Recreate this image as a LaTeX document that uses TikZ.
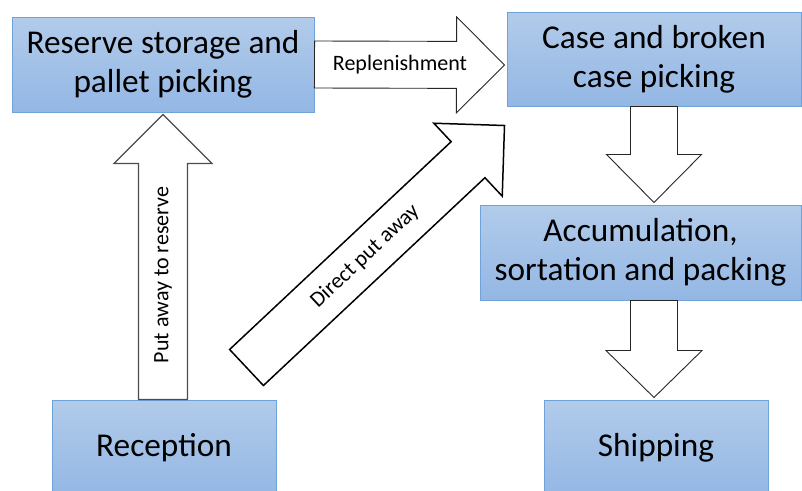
\documentclass[tikz,border=0pt]{standalone}
\usepackage{fontspec}
\setmainfont{Carlito}
\usetikzlibrary{calc}

\definecolor{boxtop}{RGB}{178,203,234}
\definecolor{boxbot}{RGB}{147,183,228}
\definecolor{boxedge}{RGB}{112,162,218}

\tikzset{
  box/.style={draw=boxedge, line width=1pt, top color=boxtop, bottom color=boxbot,
    align=center, inner sep=0pt, font=\fontsize{33.3}{39}\selectfont},
  blockarrow/.style={draw=black!85, fill=white, line width=0.9pt, line join=miter},
  arrowlabel/.style={font=\fontsize{22}{26}\selectfont, inner sep=0pt}
}

% block arrow: [options]{start}{tip}{shaft half-width}{head half-width}{head length}
\newcommand\blockarrow[6][]{%
  \coordinate (ba) at ($(#3)!#6!(#2)$);
  \draw[blockarrow,#1] ($(#2)!#4!90:(#3)$) -- ($(ba)!#4!90:(#3)$) -- ($(ba)!#5!90:(#3)$)
    -- (#3) -- ($(ba)!#5!-90:(#3)$) -- ($(ba)!#4!-90:(#3)$) -- ($(#2)!#4!-90:(#3)$) -- cycle;}

\begin{document}
\begin{tikzpicture}[x=1pt, y=-1pt]
  \useasboundingbox (0,0) rectangle (802,490);

  % process boxes
  \node[box, minimum width=302pt, minimum height=95pt] (res) at (163,64.5) {Reserve storage and\\pallet picking};
  \node[box, minimum width=294pt, minimum height=94pt] (case) at (654,59) {Case and broken\\case picking};
  \node[box, minimum width=321pt, minimum height=95pt] (acc) at (640.5,252.5) {Accumulation,\\sortation and packing};
  \node[box, minimum width=224pt, minimum height=96pt] (ship) at (656,448) {Shipping};
  \node[box, minimum width=224pt, minimum height=96pt] (rec) at (164,448) {Reception};

  % arrow end points
  \coordinate (rp0) at (res.east);
  \coordinate (rp1) at ($(res.east -| case.west)+(-2,0.5)$);
  \coordinate (pa0) at (res.south |- rec.north);
  \coordinate (pa1) at ($(res.south)+(0,2)$);
  \coordinate (d10) at (case.south);
  \coordinate (d11) at ($(case.south |- acc.north)+(0,-2)$);
  \coordinate (d20) at (case.south |- acc.south);
  \coordinate (d21) at ($(case.south |- ship.north)+(0,-2)$);
  \coordinate (dp0) at ($(rec.north east)+(-30,-32)$);
  \coordinate (dp1) at ($(case.south west)+(-2,19)$);

  % block arrows
  \blockarrow{rp0}{rp1}{23.5pt}{48pt}{48pt}
  \blockarrow[draw=black!70, line width=1.3pt]{pa0}{pa1}{24.5pt}{49pt}{49pt}
  \blockarrow{d10}{d11}{23.5pt}{47.5pt}{48pt}
  \blockarrow{d20}{d21}{23.5pt}{48pt}{47pt}
  \blockarrow[draw=black, line width=1.5pt]{dp0}{dp1}{24.7pt}{50pt}{50pt}

  % arrow labels
  \node[arrowlabel] (lrep) at ($(rp0)!0.45!(rp1)$) {Replenishment};
  \node[arrowlabel, rotate=90] (lput) at ($(pa0)!0.437!(pa1)$) {Put away to reserve};
  \path (dp0) -- (dp1) node[arrowlabel, pos=0.46, sloped] (ldir) {Direct put away};
\end{tikzpicture}
\end{document}
